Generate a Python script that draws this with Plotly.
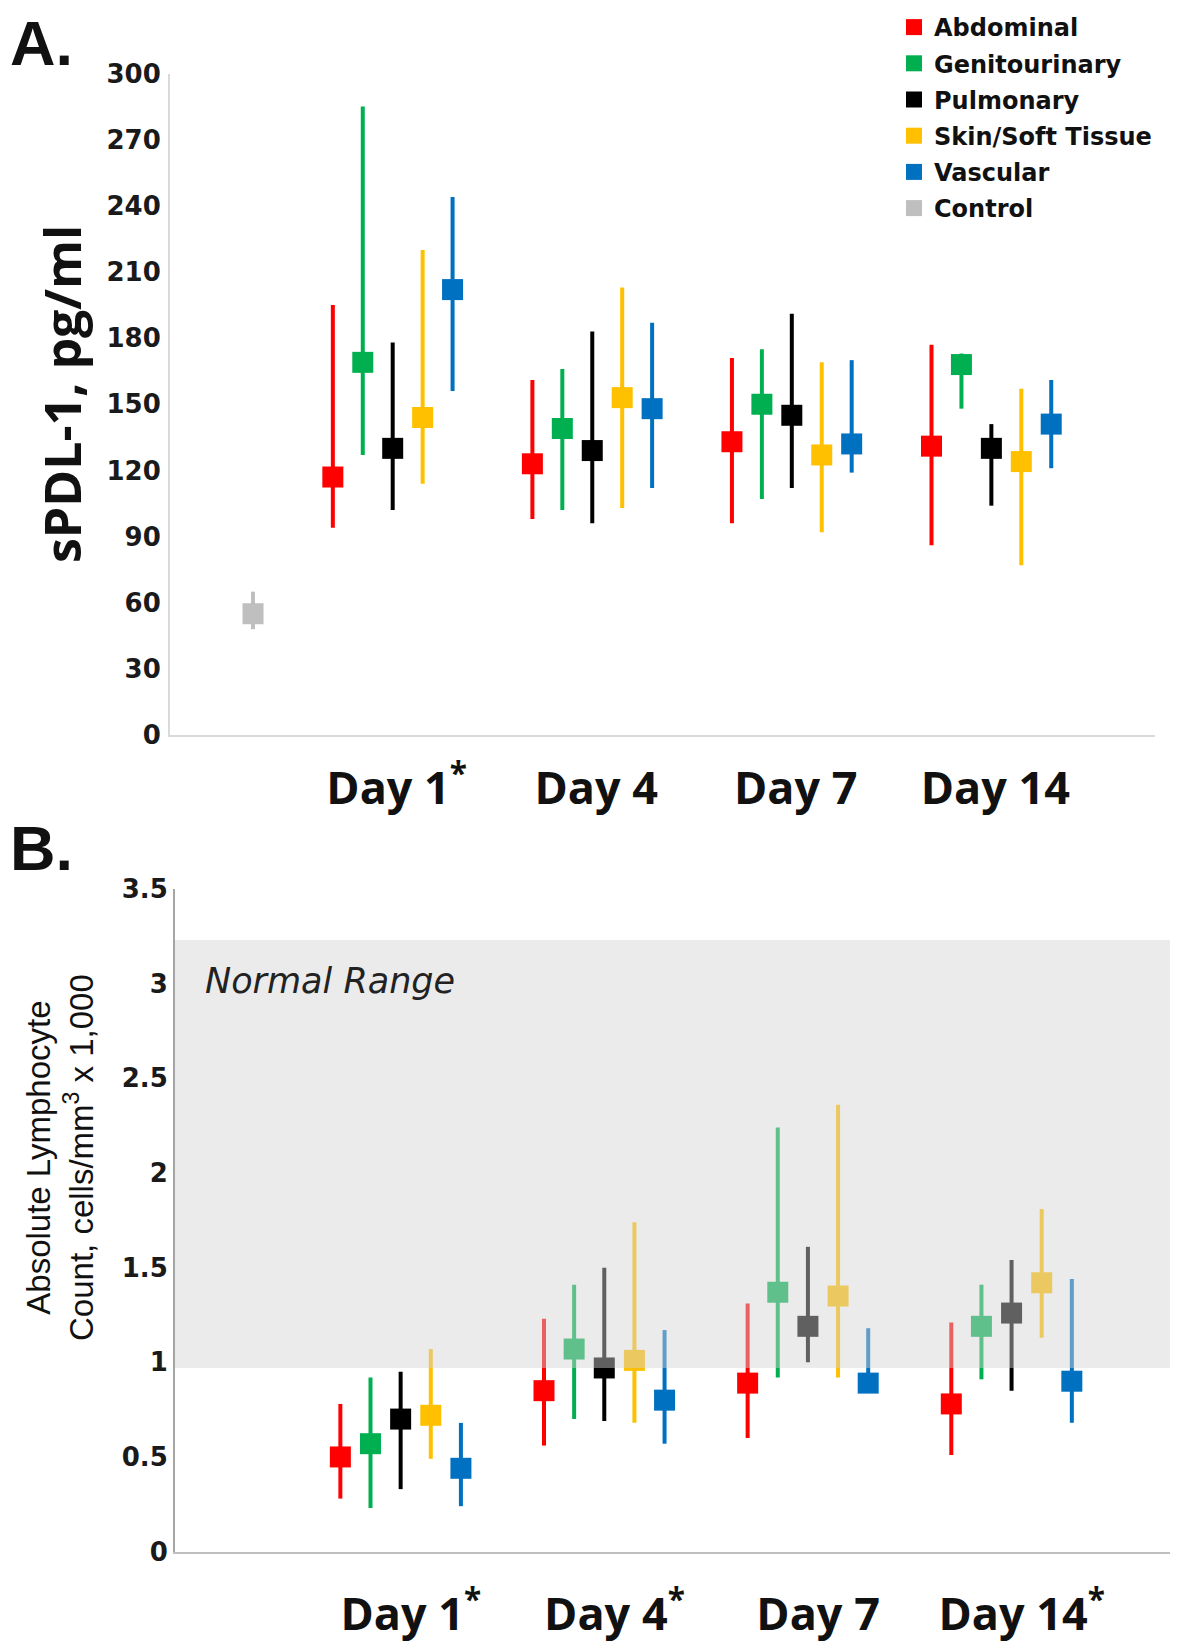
import plotly.graph_objects as go

groups = ["Abdominal", "Genitourinary", "Pulmonary", "Skin/Soft Tissue", "Vascular"]
colors = ["#ff0000", "#00b050", "#000000", "#ffc000", "#0070c0"]
control_color = "#bfbfbf"

days_a = ["Day 1<sup>*</sup>", "Day 4", "Day 7", "Day 14"]
days_b = ["Day 1<sup>*</sup>", "Day 4<sup>*</sup>", "Day 7", "Day 14<sup>*</sup>"]

# Panel A: sPDL-1, pg/ml  (rows = groups, cols = days)
spdl_mid = [[117, 123, 133, 131],
            [169, 139, 150, 168],
            [130, 129, 145, 130],
            [144, 153, 127, 124],
            [202, 148, 132, 141]]
spdl_hi = [[195, 161, 171, 177],
           [285, 166, 175, 173],
           [178, 183, 191, 141],
           [220, 203, 169, 157],
           [244, 187, 170, 161]]
spdl_lo = [[94, 98, 96, 86],
           [127, 102, 107, 148],
           [102, 96, 112, 104],
           [114, 103, 92, 77],
           [156, 112, 119, 121]]
control_mid = [55]
control_hi = [65]
control_lo = [48]

# Panel B: absolute lymphocyte count, cells/mm3 x 1,000
alc_mid = [[0.50, 0.85, 0.89, 0.78],
           [0.57, 1.07, 1.37, 1.19],
           [0.70, 0.97, 1.19, 1.26],
           [0.72, 1.01, 1.35, 1.42],
           [0.44, 0.80, 0.89, 0.90]]
alc_hi = [[0.78, 1.23, 1.31, 1.21],
          [0.92, 1.41, 2.24, 1.41],
          [0.95, 1.50, 1.61, 1.54],
          [1.07, 1.74, 2.36, 1.81],
          [0.68, 1.17, 1.18, 1.44]]
alc_lo = [[0.28, 0.56, 0.60, 0.51],
          [0.23, 0.70, 0.92, 0.91],
          [0.33, 0.69, 1.00, 0.85],
          [0.49, 0.68, 0.92, 1.13],
          [0.24, 0.57, 0.86, 0.68]]
normal_range = [0.97, 3.23]

# the page body has an 8px margin, so the figure is sized to fit what is left of the window
OFF = 8
W, H = 1181 - OFF, 1646 - OFF
day_pos = [1, 2, 3, 4]
control_pos = 0.3
step_a = 0.15
step_b = 0.148
label_shift_a = 0.02
label_shift_b = 0.05


def px(x):
    return (x - OFF) / W


def py(y):
    return 1 - (y - OFF) / H


def err(mid, hi, lo):
    return [h - m for h, m in zip(hi, mid)], [m - l for m, l in zip(mid, lo)]


fig = go.Figure()

for i, (name, c) in enumerate(zip(groups, colors)):
    up, down = err(spdl_mid[i], spdl_hi[i], spdl_lo[i])
    fig.add_trace(go.Scatter(
        x=[d + (i - 2) * step_a for d in day_pos], y=spdl_mid[i], name=name, mode="markers",
        marker=dict(symbol="square", size=21, color=c),
        error_y=dict(type="data", symmetric=False, array=up, arrayminus=down, color=c, thickness=4, width=0),
        xaxis="x", yaxis="y", legendgroup=name))

up, down = err(control_mid, control_hi, control_lo)
fig.add_trace(go.Scatter(
    x=[control_pos], y=control_mid, name="Control", mode="markers",
    marker=dict(symbol="square", size=21, color=control_color),
    error_y=dict(type="data", symmetric=False, array=up, arrayminus=down, color=control_color, thickness=4, width=0),
    xaxis="x", yaxis="y", legendgroup="Control"))

for i, (name, c) in enumerate(zip(groups, colors)):
    up, down = err(alc_mid[i], alc_hi[i], alc_lo[i])
    fig.add_trace(go.Scatter(
        x=[d + (i - 2) * step_b for d in day_pos], y=alc_mid[i], name=name, mode="markers",
        marker=dict(symbol="square", size=21, color=c),
        error_y=dict(type="data", symmetric=False, array=up, arrayminus=down, color=c, thickness=4, width=0),
        xaxis="x2", yaxis="y2", showlegend=False))

# translucent normal-range band drawn over the points, as in the original
fig.add_shape(type="rect", xref="x2 domain", yref="y2", x0=0, x1=1,
              y0=normal_range[0], y1=normal_range[1], layer="above",
              fillcolor="rgba(211,211,211,0.455)", line=dict(width=0))

tick_font = dict(family="DejaVu Sans", size=26, color="#1a1a1a", weight="bold")
day_font = dict(family="Open Sans", size=45, color="#111111", weight="bold")

fig.update_layout(
    width=W, height=H, margin=dict(l=0, r=0, t=0, b=0, autoexpand=False),
    paper_bgcolor="white", plot_bgcolor="white",
    xaxis=dict(domain=[px(170), px(1155)], range=[-0.116, 4.82], anchor="y", automargin=False,
               tickvals=[d + label_shift_a for d in day_pos], ticktext=days_a,
               tickfont=day_font, ticklabelstandoff=13,
               showline=True, linecolor="#d9d9d9", linewidth=2, showgrid=False, zeroline=False),
    yaxis=dict(domain=[py(735), py(73.5)], range=[0, 300], dtick=30, anchor="x", automargin=False,
               tickfont=tick_font, ticklabelstandoff=2,
               showline=True, linecolor="#d9d9d9", linewidth=2, showgrid=False, zeroline=False),
    xaxis2=dict(domain=[px(175), px(1170)], range=[-0.108, 4.778], anchor="y2", automargin=False,
                tickvals=[d + label_shift_b for d in day_pos], ticktext=days_b,
                tickfont=day_font, ticklabelstandoff=22,
                showline=True, linecolor="#bfbfbf", linewidth=2, showgrid=False, zeroline=False),
    yaxis2=dict(domain=[py(1551.6), py(889)], range=[0, 3.5], dtick=0.5, anchor="x2", automargin=False,
                tickfont=tick_font, ticklabelstandoff=0,
                showline=True, linecolor="#a6a6a6", linewidth=2, showgrid=False, zeroline=False),
    legend=dict(x=px(894), y=py(5), xanchor="left", yanchor="top", tracegroupgap=2,
                font=dict(family="DejaVu Sans", size=24, color="#111111", weight="bold"),
                bgcolor="rgba(0,0,0,0)"),
    showlegend=True,
)

fig.add_annotation(text="A.", x=px(8), y=py(43), xref="paper", yref="paper", showarrow=False,
                   xanchor="left", yanchor="middle",
                   font=dict(family="Liberation Sans", size=63, color="#111111", weight="bold"))
fig.add_annotation(text="B.", x=px(8), y=py(848), xref="paper", yref="paper", showarrow=False,
                   xanchor="left", yanchor="middle",
                   font=dict(family="Liberation Sans", size=63, color="#111111", weight="bold"))
fig.add_annotation(text="sPDL-1, pg/ml", x=px(62), y=py(394), xref="paper", yref="paper",
                   showarrow=False, textangle=-90, xanchor="center", yanchor="middle",
                   font=dict(family="Open Sans", size=50, color="#111111", weight="bold"))
fig.add_annotation(text="Absolute Lymphocyte<br>Count, cells/mm<sup>3</sup> x 1,000", x=px(60), y=py(1158),
                   xref="paper", yref="paper", showarrow=False, textangle=-90,
                   xanchor="center", yanchor="middle",
                   font=dict(family="Liberation Sans", size=33, color="#111111"))
fig.add_annotation(text="Normal Range", x=px(203), y=py(981), xref="paper", yref="paper",
                   showarrow=False, xanchor="left", yanchor="middle",
                   font=dict(family="DejaVu Sans", size=35, color="#222222", style="italic"))

fig.write_html("out.html")
